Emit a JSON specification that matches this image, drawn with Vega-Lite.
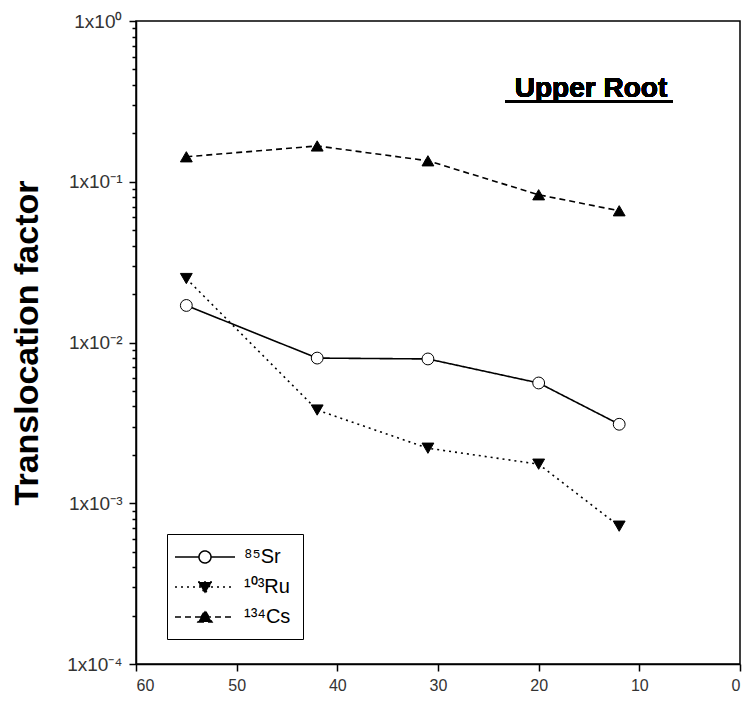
{
  "$schema": "https://vega.github.io/schema/vega-lite/v6.json",
  "width": 604,
  "height": 643,
  "autosize": {"type": "none"},
  "padding": {"left": 136, "top": 21, "right": 12, "bottom": 55},
  "background": "white",
  "config": {
    "view": {"stroke": "black", "strokeWidth": 1.5},
    "font": "Liberation Sans"
  },
  "data": {
    "values": [
      {"day": 55, "tf": 0.017, "nuclide": "Sr"},
      {"day": 42, "tf": 0.0080, "nuclide": "Sr"},
      {"day": 31, "tf": 0.0079, "nuclide": "Sr"},
      {"day": 20, "tf": 0.0056, "nuclide": "Sr"},
      {"day": 12, "tf": 0.0031, "nuclide": "Sr"},
      {"day": 55, "tf": 0.025, "nuclide": "Ru"},
      {"day": 42, "tf": 0.0038, "nuclide": "Ru"},
      {"day": 31, "tf": 0.0022, "nuclide": "Ru"},
      {"day": 20, "tf": 0.00175, "nuclide": "Ru"},
      {"day": 12, "tf": 0.00072, "nuclide": "Ru"},
      {"day": 55, "tf": 0.143, "nuclide": "Cs"},
      {"day": 42, "tf": 0.167, "nuclide": "Cs"},
      {"day": 31, "tf": 0.135, "nuclide": "Cs"},
      {"day": 20, "tf": 0.083, "nuclide": "Cs"},
      {"day": 12, "tf": 0.066, "nuclide": "Cs"}
    ]
  },
  "encoding": {
    "x": {
      "field": "day", "type": "quantitative",
      "scale": {"domain": [0, 60], "reverse": true, "nice": false},
      "axis": {
        "title": null, "values": [0, 10, 20, 30, 40, 50, 60], "grid": false,
        "tickSize": 7, "tickColor": "black", "tickWidth": 1.5,
        "domainColor": "black", "domainWidth": 1.5,
        "labelFontSize": 16, "labelColor": "#333", "labelPadding": 6
      }
    },
    "y": {
      "field": "tf", "type": "quantitative",
      "scale": {"type": "log", "domain": [0.0001, 1], "nice": false},
      "axis": {
        "title": "Translocation factor", "titleFontSize": 34, "titleFontWeight": "bold",
        "titleColor": "black", "titlePadding": 22, "grid": false,
        "values": [0.0001, 0.0002, 0.0003, 0.0004, 0.0005, 0.0006, 0.0007, 0.0008, 0.0009,
                   0.001, 0.002, 0.003, 0.004, 0.005, 0.006, 0.007, 0.008, 0.009,
                   0.01, 0.02, 0.03, 0.04, 0.05, 0.06, 0.07, 0.08, 0.09,
                   0.1, 0.2, 0.3, 0.4, 0.5, 0.6, 0.7, 0.8, 0.9, 1],
        "labelExpr": "datum.value === 1 ? '1x10⁰' : datum.value === 0.1 ? '1x10⁻¹' : datum.value === 0.01 ? '1x10⁻²' : datum.value === 0.001 ? '1x10⁻³' : datum.value === 0.0001 ? '1x10⁻⁴' : ''",
        "tickSize": {"condition": {"test": "datum.value === 1 || datum.value === 0.1 || datum.value === 0.01 || datum.value === 0.001 || datum.value === 0.0001", "value": 7}, "value": 4},
        "tickColor": "black", "tickWidth": 1.5,
        "domainColor": "black", "domainWidth": 1.5,
        "labelFontSize": 19, "labelColor": "#333", "labelPadding": 7
      }
    }
  },
  "layer": [
    {
      "mark": {"type": "line", "color": "black", "strokeWidth": 1.6},
      "encoding": {
        "strokeDash": {
          "field": "nuclide", "type": "nominal",
          "scale": {"domain": ["Sr", "Ru", "Cs"], "range": [[1, 0], [2, 4], [6, 4]]},
          "legend": {
            "orient": "none", "legendX": 31, "legendY": 513,
            "title": null, "strokeColor": "black", "padding": 12, "rowPadding": 9,
            "symbolSize": 400, "symbolStrokeWidth": 1.5, "symbolStrokeColor": "black",
            "labelFontSize": 20, "labelColor": "black", "labelOffset": 43,
            "labelExpr": "datum.value === 'Sr' ? '⁸⁵Sr' : datum.value === 'Ru' ? '¹⁰³Ru' : '¹³⁴Cs'",
            "encode": {
              "symbols": {
                "update": {
                  "x": {"value": 26},
                  "shape": {"signal": "datum.value === 'Sr' ? 'M-3,0H-0.6M0.6,0H3M-0.6,0A0.6,0.6,0,1,0,0.6,0A0.6,0.6,0,1,0,-0.6,0Z' : datum.value === 'Ru' ? 'M-3,0H3M-0.7,-0.5L0.7,-0.5L0,0.65Z' : 'M-3,0H3M-0.7,0.5L0.7,0.5L0,-0.65Z'"},
                  "fill": {"signal": "datum.value === 'Sr' ? 'white' : 'black'"},
                  "fillOpacity": {"value": 1},
                  "stroke": {"value": "black"}
                }
              }
            }
          }
        }
      }
    },
    {
      "mark": {"type": "point", "filled": true, "stroke": "black", "strokeWidth": 1, "opacity": 1},
      "encoding": {
        "shape": {
          "field": "nuclide", "type": "nominal", "sort": "descending",
          "scale": {"range": ["circle", "triangle-down", "triangle-up"]},
          "legend": null
        },
        "fill": {
          "field": "nuclide", "type": "nominal", "sort": "descending",
          "scale": {"range": ["white", "black", "black"]},
          "legend": null
        },
        "size": {"value": 140}
      }
    },
    {
      "mark": {"type": "text", "text": "Upper Root", "fontSize": 28, "fontWeight": "bold", "color": "black", "align": "center", "baseline": "alphabetic"},
      "encoding": {
        "x": {"datum": 14.8, "type": "quantitative"},
        "y": {"datum": 0.337, "type": "quantitative"}
      }
    },
    {
      "mark": {"type": "rule", "color": "black", "strokeWidth": 2.5},
      "encoding": {
        "x": {"datum": 23.3, "type": "quantitative"},
        "x2": {"datum": 6.7},
        "y": {"datum": 0.316, "type": "quantitative"}
      }
    }
  ]
}
